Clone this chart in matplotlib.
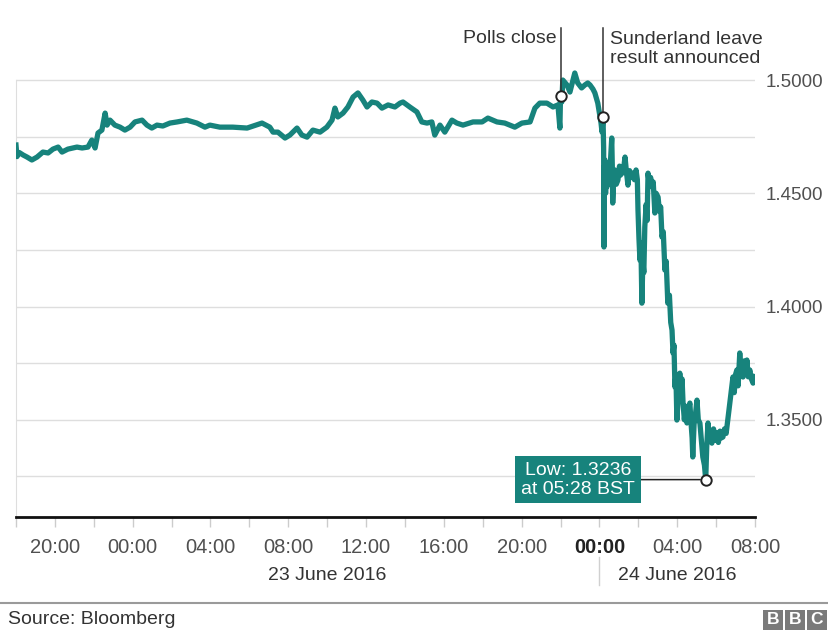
import matplotlib.pyplot as plt
import matplotlib.transforms as mtransforms
from matplotlib.patches import Rectangle
from matplotlib.lines import Line2D
import pandas as pd

plt.rcParams["font.family"] = ["Liberation Sans", "DejaVu Sans"]

TEAL = "#17837c"
GREY_TEXT = "#505050"

# GBP/USD, BST
times = [
    "2016-06-22 18:00", "2016-06-22 18:03", "2016-06-22 18:10", "2016-06-22 18:22",
    "2016-06-22 18:34", "2016-06-22 18:49", "2016-06-22 19:05", "2016-06-22 19:23",
    "2016-06-22 19:39", "2016-06-22 19:54", "2016-06-22 20:10", "2016-06-22 20:22",
    "2016-06-22 20:40", "2016-06-22 21:08", "2016-06-22 21:24", "2016-06-22 21:42",
    "2016-06-22 21:54", "2016-06-22 22:04", "2016-06-22 22:13", "2016-06-22 22:25",
    "2016-06-22 22:35", "2016-06-22 22:41", "2016-06-22 22:50", "2016-06-22 23:05",
    "2016-06-22 23:21", "2016-06-22 23:36", "2016-06-22 23:52",
    "2016-06-23 00:07", "2016-06-23 00:29", "2016-06-23 00:44", "2016-06-23 00:59",
    "2016-06-23 01:15", "2016-06-23 01:33", "2016-06-23 01:55", "2016-06-23 02:17",
    "2016-06-23 02:47", "2016-06-23 03:18", "2016-06-23 03:43", "2016-06-23 03:58",
    "2016-06-23 04:29", "2016-06-23 05:09", "2016-06-23 05:53", "2016-06-23 06:39",
    "2016-06-23 07:03", "2016-06-23 07:13", "2016-06-23 07:28", "2016-06-23 07:50",
    "2016-06-23 08:05", "2016-06-23 08:27", "2016-06-23 08:42", "2016-06-23 08:58",
    "2016-06-23 09:16", "2016-06-23 09:38", "2016-06-23 09:59", "2016-06-23 10:15",
    "2016-06-23 10:24", "2016-06-23 10:33", "2016-06-23 10:49", "2016-06-23 11:04",
    "2016-06-23 11:20", "2016-06-23 11:35", "2016-06-23 11:50", "2016-06-23 12:03",
    "2016-06-23 12:18", "2016-06-23 12:34", "2016-06-23 12:49", "2016-06-23 13:08",
    "2016-06-23 13:29", "2016-06-23 13:45", "2016-06-23 13:54", "2016-06-23 14:15",
    "2016-06-23 14:37", "2016-06-23 14:52", "2016-06-23 15:08", "2016-06-23 15:23",
    "2016-06-23 15:32", "2016-06-23 15:48", "2016-06-23 16:03", "2016-06-23 16:25",
    "2016-06-23 16:40", "2016-06-23 16:59", "2016-06-23 17:30", "2016-06-23 17:58",
    "2016-06-23 18:16", "2016-06-23 18:44", "2016-06-23 19:08", "2016-06-23 19:39",
    "2016-06-23 20:01", "2016-06-23 20:26", "2016-06-23 20:41", "2016-06-23 20:56",
    "2016-06-23 21:18", "2016-06-23 21:37", "2016-06-23 21:52", "2016-06-23 21:58",
    "2016-06-23 22:00", "2016-06-23 22:04", "2016-06-23 22:07", "2016-06-23 22:20",
    "2016-06-23 22:29", "2016-06-23 22:44", "2016-06-23 22:53", "2016-06-23 23:05",
    "2016-06-23 23:15", "2016-06-23 23:24", "2016-06-23 23:31", "2016-06-23 23:40",
    "2016-06-23 23:46", "2016-06-23 23:55",
    "2016-06-24 00:05", "2016-06-24 00:08", "2016-06-24 00:11", "2016-06-24 00:13",
    "2016-06-24 00:14", "2016-06-24 00:15", "2016-06-24 00:17", "2016-06-24 00:19",
    "2016-06-24 00:21", "2016-06-24 00:23", "2016-06-24 00:26", "2016-06-24 00:30",
    "2016-06-24 00:34", "2016-06-24 00:38", "2016-06-24 00:40", "2016-06-24 00:41",
    "2016-06-24 00:44", "2016-06-24 00:48", "2016-06-24 00:52", "2016-06-24 00:57",
    "2016-06-24 01:02", "2016-06-24 01:05", "2016-06-24 01:09", "2016-06-24 01:13",
    "2016-06-24 01:19", "2016-06-24 01:23", "2016-06-24 01:28", "2016-06-24 01:33",
    "2016-06-24 01:38", "2016-06-24 01:43", "2016-06-24 01:48", "2016-06-24 01:53",
    "2016-06-24 01:57", "2016-06-24 01:59", "2016-06-24 02:02", "2016-06-24 02:05",
    "2016-06-24 02:08", "2016-06-24 02:11", "2016-06-24 02:14", "2016-06-24 02:17",
    "2016-06-24 02:20", "2016-06-24 02:24", "2016-06-24 02:27", "2016-06-24 02:30",
    "2016-06-24 02:34", "2016-06-24 02:38", "2016-06-24 02:42", "2016-06-24 02:46",
    "2016-06-24 02:51", "2016-06-24 02:55", "2016-06-24 03:01", "2016-06-24 03:05",
    "2016-06-24 03:09", "2016-06-24 03:13", "2016-06-24 03:17", "2016-06-24 03:22",
    "2016-06-24 03:26", "2016-06-24 03:31", "2016-06-24 03:36", "2016-06-24 03:40",
    "2016-06-24 03:44", "2016-06-24 03:47", "2016-06-24 03:50", "2016-06-24 03:53",
    "2016-06-24 03:56", "2016-06-24 03:59", "2016-06-24 04:03", "2016-06-24 04:08",
    "2016-06-24 04:12", "2016-06-24 04:15", "2016-06-24 04:18", "2016-06-24 04:22",
    "2016-06-24 04:26", "2016-06-24 04:30", "2016-06-24 04:34", "2016-06-24 04:39",
    "2016-06-24 04:43", "2016-06-24 04:46", "2016-06-24 04:48", "2016-06-24 04:52",
    "2016-06-24 04:56", "2016-06-24 05:01", "2016-06-24 05:05", "2016-06-24 05:10",
    "2016-06-24 05:14", "2016-06-24 05:19", "2016-06-24 05:24", "2016-06-24 05:28",
    "2016-06-24 05:31", "2016-06-24 05:35", "2016-06-24 05:39", "2016-06-24 05:43",
    "2016-06-24 05:47", "2016-06-24 05:52", "2016-06-24 05:57", "2016-06-24 06:02",
    "2016-06-24 06:07", "2016-06-24 06:12", "2016-06-24 06:16", "2016-06-24 06:21",
    "2016-06-24 06:26", "2016-06-24 06:31", "2016-06-24 06:36", "2016-06-24 06:41",
    "2016-06-24 06:46", "2016-06-24 06:52", "2016-06-24 06:56", "2016-06-24 07:00",
    "2016-06-24 07:04", "2016-06-24 07:08", "2016-06-24 07:13", "2016-06-24 07:17",
    "2016-06-24 07:20", "2016-06-24 07:23", "2016-06-24 07:27", "2016-06-24 07:31",
    "2016-06-24 07:35", "2016-06-24 07:39", "2016-06-24 07:44", "2016-06-24 07:49",
    "2016-06-24 07:54", "2016-06-24 08:00",
]
rates = [
    1.4713, 1.4662, 1.4680, 1.4669,
    1.4660, 1.4647, 1.4660, 1.4682,
    1.4678, 1.4695, 1.4704, 1.4682,
    1.4695, 1.4704, 1.4700, 1.4704,
    1.4735, 1.4700, 1.4766, 1.4779,
    1.4854, 1.4801, 1.4823, 1.4801,
    1.4792, 1.4779, 1.4792,
    1.4815, 1.4823, 1.4801, 1.4788,
    1.4801, 1.4797, 1.4810, 1.4815,
    1.4823, 1.4810, 1.4792, 1.4801,
    1.4792, 1.4792, 1.4788, 1.4810,
    1.4792, 1.4770, 1.4770, 1.4744,
    1.4757, 1.4788, 1.4757, 1.4748,
    1.4779, 1.4770, 1.4792, 1.4823,
    1.4876, 1.4837, 1.4854, 1.4881,
    1.4925, 1.4943, 1.4912, 1.4881,
    1.4903, 1.4898, 1.4876, 1.4890,
    1.4881, 1.4898, 1.4903, 1.4881,
    1.4859, 1.4815, 1.4810, 1.4815,
    1.4757, 1.4801, 1.4770, 1.4823,
    1.4810, 1.4801, 1.4815, 1.4815,
    1.4832, 1.4815, 1.4810, 1.4792,
    1.4810, 1.4815, 1.4876, 1.4898,
    1.4898, 1.4881, 1.4890, 1.4788,
    1.4929, 1.4903, 1.5000, 1.4978,
    1.4947, 1.5031, 1.4987, 1.4965,
    1.4978, 1.4987, 1.4978, 1.4960,
    1.4943, 1.4898,
    1.4810, 1.4770, 1.4837, 1.4700,
    1.4263, 1.4600, 1.4647, 1.4500,
    1.4620, 1.4528, 1.4603, 1.4560,
    1.4640, 1.4744, 1.4600, 1.4457,
    1.4560, 1.4603, 1.4540, 1.4558,
    1.4620, 1.4580, 1.4616, 1.4590,
    1.4660, 1.4600, 1.4536, 1.4600,
    1.4570, 1.4589, 1.4560, 1.4603,
    1.4560, 1.4426, 1.4300, 1.4205,
    1.4280, 1.4015, 1.4200, 1.4150,
    1.4351, 1.4450, 1.4380, 1.4589,
    1.4540, 1.4570, 1.4528, 1.4550,
    1.4413, 1.4500, 1.4483, 1.4420,
    1.4440, 1.4307, 1.4330, 1.4161,
    1.4200, 1.4015, 1.4050, 1.3930,
    1.3896, 1.3795, 1.3830, 1.3645,
    1.3700, 1.3499, 1.3600, 1.3706,
    1.3620, 1.3680, 1.3574, 1.3500,
    1.3560, 1.3486, 1.3540, 1.3574,
    1.3480, 1.3420, 1.3336, 1.3480,
    1.3520, 1.3587, 1.3500, 1.3486,
    1.3420, 1.3336, 1.3300, 1.3236,
    1.3380, 1.3486, 1.3420, 1.3440,
    1.3397, 1.3460, 1.3410, 1.3442,
    1.3400, 1.3450, 1.3420, 1.3424,
    1.3460, 1.3440, 1.3499, 1.3560,
    1.3620, 1.3689, 1.3620, 1.3700,
    1.3720, 1.3650, 1.3795, 1.3700,
    1.3740, 1.3689, 1.3760, 1.3700,
    1.3764, 1.3690, 1.3720, 1.3680,
    1.3662, 1.3690,
]

polls_time, polls_rate = "2016-06-23 22:00", 1.4929
sunderland_time, sunderland_rate = "2016-06-24 00:11", 1.4837
low_time, low_rate = "2016-06-24 05:28", 1.3236

grid_levels = [1.325, 1.35, 1.375, 1.40, 1.425, 1.45, 1.475, 1.50]
label_levels = [1.35, 1.40, 1.45, 1.50]
tick_hours = pd.date_range("2016-06-22 20:00", "2016-06-24 08:00", freq="4h")
minor_hours = pd.date_range("2016-06-22 18:00", "2016-06-24 08:00", freq="2h")

ts = pd.to_datetime(times)

fig = plt.figure(figsize=(8.29, 6.30), dpi=100)
W, H = 829, 630
ax = fig.add_axes([16 / W, 1 - 517 / H, (755 - 16) / W, (517 - 20) / H])

ax.plot(ts, rates, color=TEAL, lw=3.8, zorder=3)
ax.set_xlim(pd.Timestamp("2016-06-22 18:00"), pd.Timestamp("2016-06-24 08:00"))
ax.set_ylim(1.3071, 1.5265)

# y axis on the right, grid every 0.025
ax.yaxis.tick_right()
ax.set_yticks(label_levels, [f"{v:.4f}" for v in label_levels])
ax.set_yticks(grid_levels, minor=True)
ax.tick_params(axis="y", which="both", length=0, pad=8, labelsize=13.5, labelcolor=GREY_TEXT)
ax.grid(axis="y", which="both", color="#dedede", lw=1)
ax.set_axisbelow(True)

# x axis
ax.set_xticks(tick_hours, [t.strftime("%H:%M") for t in tick_hours])
ax.set_xticks(minor_hours, minor=True)
ax.tick_params(axis="x", which="both", length=7, width=1, color="#cccccc",
               direction="out", labelsize=14.5, labelcolor=GREY_TEXT, pad=8)
for lab, t in zip(ax.get_xticklabels(), tick_hours):
    if t == pd.Timestamp("2016-06-24 00:00"):
        lab.set_fontweight("bold")
        lab.set_color("#222222")

for side in ["top", "right"]:
    ax.spines[side].set_visible(False)
ax.spines["bottom"].set_color("#111111")
ax.spines["bottom"].set_linewidth(2)
ax.spines["left"].set_color("#dedede")
ax.spines["left"].set_bounds(1.3071, 1.50)

# date labels under the axis
trans = mtransforms.blended_transform_factory(ax.transData, ax.transAxes)
ax.text(pd.Timestamp("2016-06-23 10:00"), -0.117, "23 June 2016", transform=trans,
        ha="center", va="center", fontsize=14, color="#333333")
ax.text(pd.Timestamp("2016-06-24 04:00"), -0.117, "24 June 2016", transform=trans,
        ha="center", va="center", fontsize=14, color="#333333")
ax.plot([pd.Timestamp("2016-06-24 00:00")] * 2, [-0.08, -0.137], transform=trans,
        color="#d0d0d0", lw=1, clip_on=False)

# event annotations
top_y = 1.523
for t, r in [(polls_time, polls_rate), (sunderland_time, sunderland_rate)]:
    t = pd.Timestamp(t)
    ax.plot([t, t], [r, top_y], color="#333333", lw=1.1, clip_on=False, zorder=4)
    ax.plot(t, r, "o", ms=7.5, mfc="white", mec="#222222", mew=1.4, clip_on=False, zorder=5)

ax.annotate("Polls close", xy=(pd.Timestamp(polls_time), 1.5185), xytext=(-3, 0),
            textcoords="offset points", ha="right", va="center",
            fontsize=14, color="#333333", annotation_clip=False)
ax.annotate("Sunderland leave\nresult announced", xy=(pd.Timestamp(sunderland_time), 1.5137),
            xytext=(5, 0), textcoords="offset points", ha="left", va="center",
            fontsize=14, color="#333333", linespacing=1.1, annotation_clip=False)

# low point
low_t = pd.Timestamp(low_time)
ax.annotate("Low: 1.3236\nat 05:28 BST", xy=(low_t, low_rate), xytext=(-92, 0),
            textcoords="offset points", ha="center", va="center",
            fontsize=14, color="white", linespacing=1.15,
            bbox=dict(boxstyle="square,pad=0.3", fc=TEAL, ec="none"),
            arrowprops=dict(arrowstyle="-", color="#222222", lw=1.1, shrinkA=0, shrinkB=4),
            zorder=6)
ax.plot(low_t, low_rate, "o", ms=7.5, mfc="white", mec="#222222", mew=1.4, zorder=7)

# footer
fig.add_artist(Line2D([0, 1], [1 - 603 / H, 1 - 603 / H], color="#9a9a9a", lw=1.5))
fig.text(8 / W, 1 - 620 / H, "Source: Bloomberg", ha="left", va="center",
         fontsize=14, color="#333333")
for i, letter in enumerate("BBC"):
    x0 = (763 + i * 22) / W
    fig.add_artist(Rectangle((x0, 0), 20 / W, 20 / H, transform=fig.transFigure,
                             fc="#7a7a7a", ec="none"))
    fig.text(x0 + 10 / W, 10 / H, letter, ha="center", va="center",
             fontsize=12.5, fontweight="bold", color="white")

fig.savefig("out.png", dpi=100)
